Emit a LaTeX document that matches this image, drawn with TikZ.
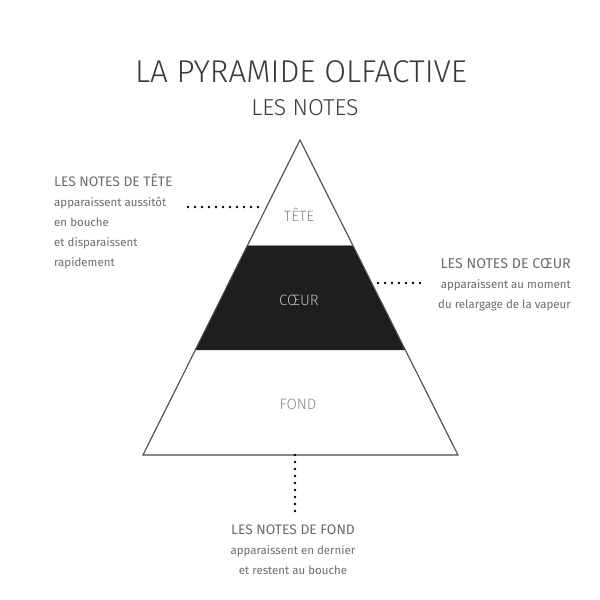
\documentclass[tikz,border=0pt]{standalone}
\usepackage{fontspec}
\setmainfont{Fira Sans}
\newfontfamily\titlef{Fira Sans}[UprightFont={* Light}]
\definecolor{titlegray}{HTML}{3A3A3A}
\definecolor{labelgray}{HTML}{6C6C6C}
\definecolor{innergray}{HTML}{858585}
\definecolor{coeurgray}{HTML}{BDBDBD}
\definecolor{edgegray}{HTML}{4A4A4A}
\definecolor{bandblack}{HTML}{1E1E1E}
\begin{document}
\begin{tikzpicture}[x=1pt,y=-1pt,
  dotline/.style={line width=2.8pt, line cap=round, dash pattern=on 0pt off 7pt, black},
  labeltext/.style={inner sep=0pt, text=labelgray, font=\fontsize{11.5}{20}\selectfont},
  bandtext/.style={inner sep=0pt, font=\titlef\fontsize{15}{16}\selectfont}]
\useasboundingbox[fill=white] (0,0) rectangle (600,600);
% pyramid
\coordinate (apex) at (300,140);
\coordinate (bl) at (143,455);
\coordinate (br) at (458,455);
\coordinate (ml1) at (247.5,245);
\coordinate (mr1) at (352.5,245);
\coordinate (ml2) at (195,350);
\coordinate (mr2) at (405,350);
\fill[bandblack] (ml1) -- (mr1) -- (mr2) -- (ml2) -- cycle;
\draw[edgegray, line width=1.1pt, line join=miter] (apex) -- (br) -- (bl) -- cycle;
\draw[edgegray!60, line width=0.6pt] (ml1) -- (mr1);
% title
\node[inner sep=0pt, text=titlegray, font=\titlef\fontsize{31.5}{32}\selectfont] (title) at (301,72) {LA PYRAMIDE OLFACTIVE};
\node[inner sep=0pt, text=titlegray, font=\titlef\fontsize{23}{24}\selectfont] (subtitle) at (305,108) {LES NOTES};
% band labels
\node[bandtext, text=innergray] (tete) at (299,215) {TÊTE};
\node[bandtext, text=coeurgray] (coeur) at (299,300) {CŒUR};
\node[bandtext, text=innergray] (fond) at (298,404) {FOND};
% side labels
\node[labeltext, align=left, anchor=north west] (ltete) at (54,174) {{\fontsize{13.8}{20}\selectfont LES NOTES DE TÊTE}\\apparaissent aussitôt\\en bouche\\et disparaissent\\rapidement};
\node[labeltext, align=right, anchor=north east] (lcoeur) at (571,258) {{\fontsize{14.2}{20}\selectfont LES NOTES DE CŒUR}\\apparaissent au moment\\du relargage de la vapeur};
\node[labeltext, align=center, anchor=north] (lfond) at (293,525) {{\fontsize{13.8}{20}\selectfont LES NOTES DE FOND}\\apparaissent en dernier\\et restent au bouche};
% connectors
\coordinate (tetestart) at (188,207);
\coordinate (teteedge) at (264,207);
\coordinate (coeurstart) at (378,283);
\coordinate (coeurend) at (422,283);
\coordinate (fondtop) at (295,455);
\coordinate (fondend) at (295,512);
\draw[dotline] (tetestart) -- (teteedge);
\draw[dotline] (coeurstart) -- (coeurend);
\draw[dotline] (fondtop) -- (fondend);
\end{tikzpicture}
\end{document}
